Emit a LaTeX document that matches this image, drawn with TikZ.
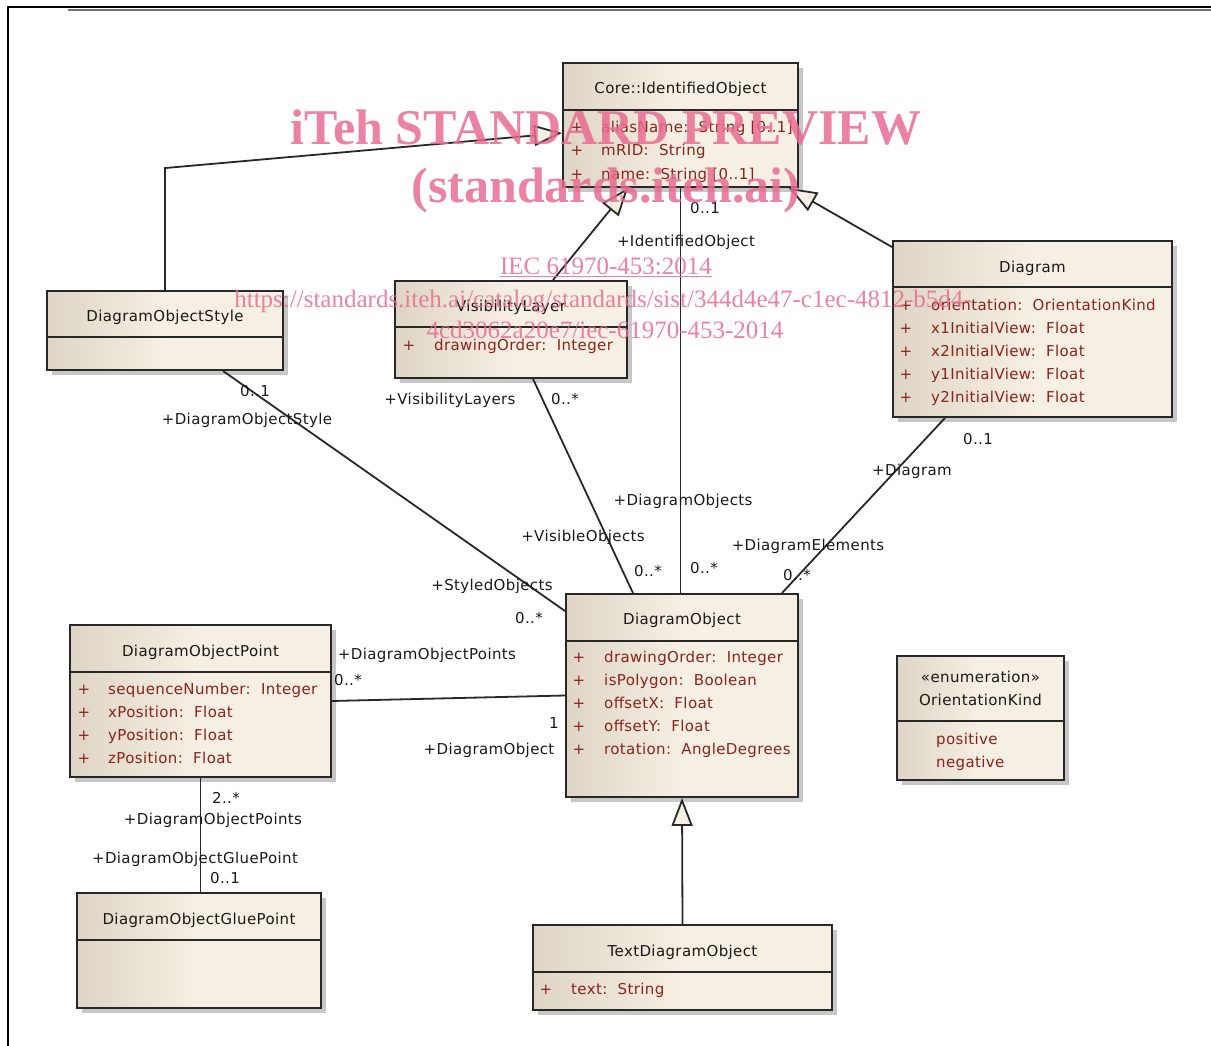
\documentclass[tikz,border=0pt]{standalone}
\usepackage{fontspec}
\newfontfamily\umlfont[LetterSpace=2.5]{DejaVu Sans}
\newfontfamily\markfont{Liberation Serif}
\usepackage{tikz}
\usetikzlibrary{arrows.meta}
\usetikzlibrary{shadows}

\definecolor{umlL}{RGB}{222,213,197}
\definecolor{umlR}{RGB}{246,239,227}
\definecolor{umlred}{RGB}{140,35,25}
\definecolor{umlline}{RGB}{40,40,40}
\definecolor{markpink}{RGB}{232,108,146}

\begin{document}
\begin{tikzpicture}[x=1pt,y=-1pt,
	umlbox/.style={draw=umlline, line width=1.9pt, inner sep=0pt,
		left color=umlL, right color=umlR, middle color=umlR,
		drop shadow={shadow xshift=5pt, shadow yshift=-5pt, fill=black!22, opacity=1}},
	umltext/.style={font=\umlfont\fontsize{15}{18}\selectfont, inner sep=0pt,
		text height=11pt, text depth=3pt},
	classtitle/.style={umltext, text=black!90},
	attrtext/.style={umltext, text=umlred, anchor=west},
	plustext/.style={umltext, text=umlred},
	roletext/.style={umltext, text=black!90},
	divider/.style={draw=umlline, line width=1.9pt},
	assoc/.style={draw=umlline, line width=1.8pt},
	gen/.style={draw=umlline, line width=1.8pt, -{Triangle[length=28pt, width=21pt, fill=umlR]}},
	watermark/.style={text=markpink, opacity=0.85, inner sep=0pt, anchor=base}
	]
	\useasboundingbox (0,0) rectangle (1211,1046);
	
	% frame
	\draw[black!55, line width=1.2pt] (68,10) -- (1211,10);
	\draw[black, line width=1.8pt] (8,1046) -- (8,7) -- (1211,7);
	
	% classes
	\node[umlbox, minimum width=235, minimum height=124] (core_class) at (680.5,125) {};
	\node[umlbox, minimum width=236, minimum height=79] (style_class) at (165,330.5) {};
	\node[umlbox, minimum width=232, minimum height=97] (layer_class) at (511,329.5) {};
	\node[umlbox, minimum width=279, minimum height=176] (diagram_class) at (1032.5,329) {};
	\node[umlbox, minimum width=261, minimum height=152] (point_class) at (200.5,701) {};
	\node[umlbox, minimum width=232, minimum height=203] (object_class) at (682,695.5) {};
	\node[umlbox, minimum width=167, minimum height=124] (kind_class) at (980.5,718) {};
	\node[umlbox, minimum width=244, minimum height=115] (glue_class) at (199,950.5) {};
	\node[umlbox, minimum width=299, minimum height=85] (text_class) at (682.5,967.5) {};
	
	% compartments
	\draw[divider] (563,110) -- (798,110);
	\draw[divider] (47,337) -- (283,337);
	\draw[divider] (395,327) -- (627,327);
	\draw[divider] (893,287) -- (1172,287);
	\draw[divider] (70,672) -- (331,672);
	\draw[divider] (566,641) -- (798,641);
	\draw[divider] (897,721) -- (1064,721);
	\draw[divider] (77,940) -- (321,940);
	\draw[divider] (533,972) -- (832,972);
	
	% class names
	\node[classtitle] (core_name) at (680.5,90) {Core::IdentifiedObject};
	\node[classtitle] (style_name) at (165,317) {DiagramObjectStyle};
	\node[classtitle] (layer_name) at (511,307) {VisibilityLayer};
	\node[classtitle] (diagram_name) at (1032.5,268) {Diagram};
	\node[classtitle] (point_name) at (200.5,652) {DiagramObjectPoint};
	\node[classtitle] (object_name) at (682,620) {DiagramObject};
	\node[classtitle] (kind_stereo) at (980.5,678) {«enumeration»};
	\node[classtitle] (kind_name) at (980.5,701) {OrientationKind};
	\node[classtitle] (glue_name) at (199,920) {DiagramObjectGluePoint};
	\node[classtitle] (text_name) at (682.5,952) {TextDiagramObject};
	
	% attributes
	\foreach \txt [count=\k] in {{aliasName:~~String [0..1]}, {mRID:~~String}, {name:~~String [0..1]}} {
		\node[plustext] (core_plus\k) at (577,{106+23*\k}) {+};
		\node[attrtext] (core_attr\k) at (601,{106+23*\k}) {\txt};
	}
	\foreach \txt [count=\k] in {{orientation:~~OrientationKind}, {x1InitialView:~~Float}, {x2InitialView:~~Float}, {y1InitialView:~~Float}, {y2InitialView:~~Float}} {
		\node[plustext] (diagram_plus\k) at (906,{283+23*\k}) {+};
		\node[attrtext] (diagram_attr\k) at (931,{283+23*\k}) {\txt};
	}
	\foreach \txt [count=\k] in {{drawingOrder:~~Integer}, {isPolygon:~~Boolean}, {offsetX:~~Float}, {offsetY:~~Float}, {rotation:~~AngleDegrees}} {
		\node[plustext] (object_plus\k) at (579,{635+23*\k}) {+};
		\node[attrtext] (object_attr\k) at (604,{635+23*\k}) {\txt};
	}
	\foreach \txt [count=\k] in {{sequenceNumber:~~Integer}, {xPosition:~~Float}, {yPosition:~~Float}, {zPosition:~~Float}} {
		\node[plustext] (point_plus\k) at (84,{667+23*\k}) {+};
		\node[attrtext] (point_attr\k) at (108,{667+23*\k}) {\txt};
	}
	\node[plustext] (layer_plus1) at (409,346) {+};
	\node[attrtext] (layer_attr1) at (434,346) {drawingOrder:~~Integer};
	\node[plustext] (text_plus1) at (546,990) {+};
	\node[attrtext] (text_attr1) at (571,990) {text:~~String};
	\node[attrtext] (kind_val1) at (936,740) {positive};
	\node[attrtext] (kind_val2) at (936,763) {negative};
	
	% generalisations
	\draw[gen] (style_class.north) -- ++(0,-122) -- ([yshift=-8pt]core_class.west);
	\draw[gen] ([xshift=42pt]layer_class.north) -- ([xshift=-52.5pt]core_class.south);
	\draw[gen] ([yshift=-7pt]diagram_class.north west) -- ([xshift=-10pt]core_class.south east);
	\draw[gen] (text_class.north) -- (object_class.south);
	
	% associations
	\draw[assoc] (core_class.south) -- (core_class.south |- object_class.north);
	\draw[assoc] ([xshift=58pt]style_class.south) -- ([yshift=-18pt]object_class.north west);
	\draw[assoc] ([xshift=22pt]layer_class.south) -- ([xshift=-49pt]object_class.north);
	\draw[assoc] ([xshift=-87.5pt]diagram_class.south) -- ([xshift=-17pt]object_class.north east);
	\draw[assoc] (point_class.east) -- (object_class.west);
	\draw[assoc] (point_class.south) -- (point_class.south |- glue_class.north);
	
	% roles and multiplicities
	\node[roletext] (core_mult) at (705,209) {0..1};
	\node[roletext] (core_role) at (686,242) {+IdentifiedObject};
	\node[roletext] (objects_role) at (683,501) {+DiagramObjects};
	\node[roletext] (objects_mult) at (704,569) {0..*};
	\node[roletext] (layers_role) at (450,400) {+VisibilityLayers};
	\node[roletext] (layers_mult) at (565,400) {0..*};
	\node[roletext] (visible_role) at (583,537) {+VisibleObjects};
	\node[roletext] (visible_mult) at (648,572) {0..*};
	\node[roletext] (style_mult) at (255,392) {0..1};
	\node[roletext] (style_role) at (247,420) {+DiagramObjectStyle};
	\node[roletext] (styled_role) at (492,586) {+StyledObjects};
	\node[roletext] (styled_mult) at (529,619) {0..*};
	\node[roletext] (diagram_mult) at (978,440) {0..1};
	\node[roletext] (diagram_role) at (912,471) {+Diagram};
	\node[roletext] (elements_role) at (808,546) {+DiagramElements};
	\node[roletext] (elements_mult) at (797,576) {0..*};
	\node[roletext] (points_role) at (427,655) {+DiagramObjectPoints};
	\node[roletext] (points_mult) at (348,681) {0..*};
	\node[roletext] (object_mult) at (554,724) {1};
	\node[roletext] (object_role) at (489,750) {+DiagramObject};
	\node[roletext] (gpoints_mult) at (226,799) {2..*};
	\node[roletext] (gpoints_role) at (213,820) {+DiagramObjectPoints};
	\node[roletext] (glue_role) at (195,859) {+DiagramObjectGluePoint};
	\node[roletext] (glue_mult) at (225,879) {0..1};
	
	% watermark
	\node[watermark, font=\markfont\bfseries\fontsize{50}{50}\selectfont] (mark_title) at (606,145) {iTeh STANDARD PREVIEW};
	\node[watermark, font=\markfont\bfseries\fontsize{50}{50}\selectfont] (mark_site) at (606,203) {(standards.iteh.ai)};
	\node[watermark, font=\markfont\fontsize{25}{25}\selectfont] (mark_std) at (606,274) {\underline{IEC 61970-453:2014}};
	\node[watermark, font=\markfont\fontsize{25}{25}\selectfont] (mark_url1) at (603,307) {https://standards.iteh.ai/catalog/standards/sist/344d4e47-c1ec-4812-b5d4-};
	\node[watermark, font=\markfont\fontsize{25}{25}\selectfont] (mark_url2) at (605,338) {4cd3062a20e7/iec-61970-453-2014};
\end{tikzpicture}
\end{document}
